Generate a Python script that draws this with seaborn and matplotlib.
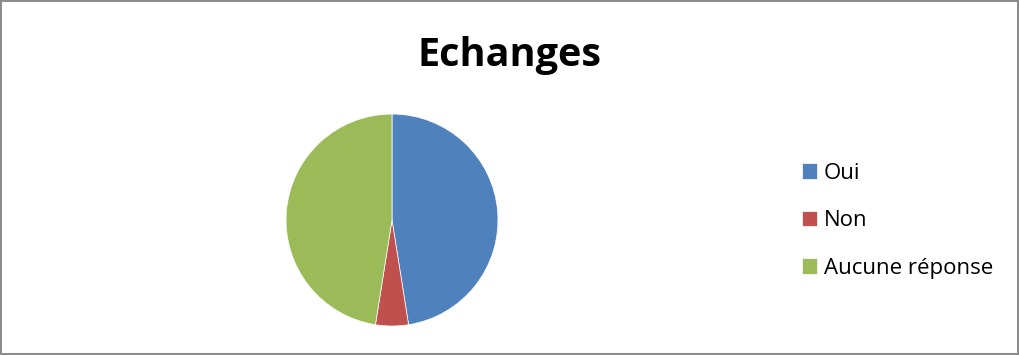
import matplotlib
matplotlib.use("Agg")
import matplotlib.pyplot as plt
import seaborn as sns

# Data
categories = ['Oui', 'Non', 'Aucune réponse']
values = [47.5, 5, 47.5]
colors = ['#4F81BD', '#C0504D', '#9BBB59']

sns.set_theme(style='white')
plt.rcParams['font.family'] = ['Open Sans', 'DejaVu Sans']

fig = plt.figure(figsize=(10.19, 3.55), dpi=100)
fig.patch.set_edgecolor('#8C8C8C')
fig.patch.set_linewidth(1.5)

# Pie placed where the original sits
ax = fig.add_axes([0.2807, 0.0817, 0.208, 0.597])
wedges, _ = ax.pie(values, colors=colors, startangle=90, counterclock=False,
                   wedgeprops=dict(linewidth=0.5, edgecolor='white'))
ax.set_xlim(-1, 1)
ax.set_ylim(-1, 1)
ax.set_aspect('equal')

fig.text(0.5, 0.845, 'Echanges', ha='center', va='center',
         fontsize=28.5, fontweight='bold', color='black')

leg = fig.legend(wedges, categories, loc='center left', bbox_to_anchor=(0.776, 0.378),
                 frameon=False, fontsize=16, handlelength=0.7, handleheight=0.7,
                 handletextpad=0.3, labelspacing=1.2, borderpad=0)
for t in leg.get_texts():
    t.set_color('black')

fig.savefig('out.png', dpi=100)
